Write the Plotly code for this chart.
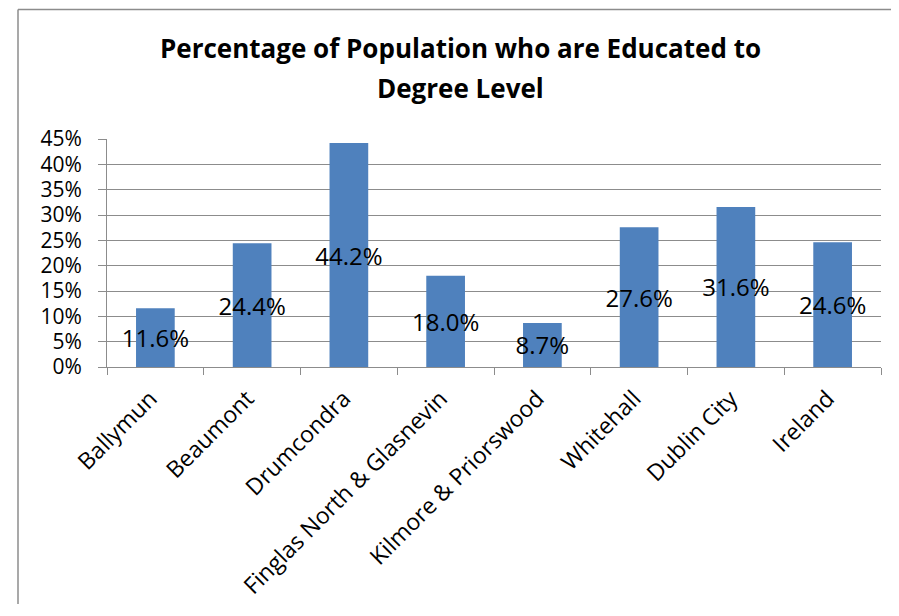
import plotly.graph_objects as go

categories = ["Ballymun", "Beaumont", "Drumcondra", "Finglas North & Glasnevin",
              "Kilmore & Priorswood", "Whitehall", "Dublin City", "Ireland"]
values = [0.116, 0.244, 0.442, 0.180, 0.087, 0.276, 0.316, 0.246]
title_line1 = "Percentage of Population who are Educated to"
title_line2 = "Degree Level"

FONT = "Open Sans"
GRAY = "#8c8c8c"

# page body has an 8px margin: shift everything by -8 px
OFF = 8
W, H = 899 - OFF - 2, 616 - 2 * OFF - 4
L, R, T = 107 - OFF, 26 - OFF - 2, 139 - OFF
B = H - (367 - OFF)
pw, ph = W - L - R, H - T - B

def px_x(x):
    return (x - OFF - L) / pw

def px_y(y):
    return (H - B - (y - OFF)) / ph

fig = go.Figure()
fig.add_trace(go.Bar(
    x=categories, y=values,
    marker=dict(color="#4F81BD", line=dict(width=0)),
    texttemplate="%{y:.1%}",
    textposition="inside",
    insidetextanchor="middle",
    constraintext="none",
    textangle=0,
    textfont=dict(family=FONT, size=24, color="black"),
    hoverinfo="skip",
))

border = dict(color=GRAY, width=1.5)
fig.update_layout(
    width=W, height=H,
    margin=dict(l=L, r=R, t=T, b=B, pad=0, autoexpand=False),
    paper_bgcolor="white", plot_bgcolor="white",
    showlegend=False,
    bargap=0.6,
    font=dict(family=FONT, color="black"),
    annotations=[
        dict(text=title_line1, x=px_x(460), y=px_y(48), xref="paper", yref="paper",
             showarrow=False, xanchor="center", yanchor="middle",
             font=dict(family=FONT, size=26, color="black", weight="bold")),
        dict(text=title_line2, x=px_x(460), y=px_y(88), xref="paper", yref="paper",
             showarrow=False, xanchor="center", yanchor="middle",
             font=dict(family=FONT, size=26, color="black", weight="bold")),
    ],
    shapes=[
        dict(type="line", xref="paper", yref="paper",
             x0=px_x(18), x1=px_x(18), y0=px_y(612), y1=px_y(9.5), line=border),
        dict(type="line", xref="paper", yref="paper",
             x0=px_x(18), x1=px_x(897), y0=px_y(9.5), y1=px_y(9.5), line=border),
    ],
)

fig.update_yaxes(
    range=[0, 0.45], dtick=0.05, tickformat=".0%",
    showgrid=True, gridcolor=GRAY, gridwidth=1,
    showline=True, linecolor=GRAY, linewidth=1,
    ticks="outside", ticklen=8, tickcolor=GRAY,
    ticklabelstandoff=12, automargin=False,
    tickfont=dict(family=FONT, size=21, color="black"),
    zeroline=False, fixedrange=True,
)
fig.update_xaxes(
    showline=True, linecolor=GRAY, linewidth=1,
    ticks="outside", ticklen=7, tickcolor=GRAY, tickson="boundaries",
    tickangle=-45, automargin=False,
    ticklabelstandoff=8, ticklabelshift=-5,
    tickfont=dict(family=FONT, size=23, color="black"),
    fixedrange=True,
)

fig.write_html("out.html")
